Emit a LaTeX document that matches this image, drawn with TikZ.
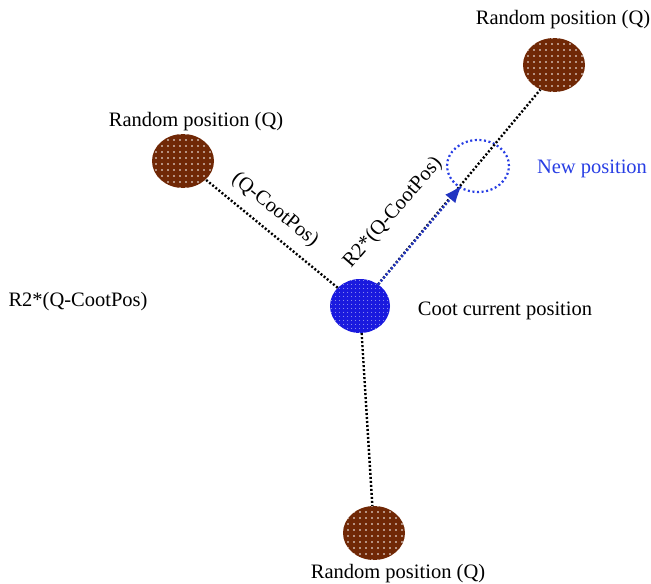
\documentclass[tikz,border=0pt]{standalone}
\usepackage{fontspec}
\setmainfont{Liberation Serif}
\usetikzlibrary{shapes.geometric, patterns.meta, arrows.meta}
\definecolor{qbrown}{RGB}{112,40,6}
\definecolor{cootblue}{RGB}{26,26,222}
\definecolor{newblue}{RGB}{40,62,228}
\begin{document}
\begin{tikzpicture}[x=1pt, y=-1pt, every node/.style={font=\fontsize{20.5pt}{24pt}\selectfont},
  qpos/.style={ellipse, inner sep=0pt, minimum width=62pt, minimum height=54pt, preaction={fill=qbrown}, pattern={Dots[distance=6pt, radius=0.8pt]}, pattern color=white},
  coot/.style={ellipse, inner sep=0pt, minimum width=60pt, minimum height=54pt, preaction={fill=cootblue}, pattern={Dots[distance=4pt, radius=0.6pt]}, pattern color=white!85!cootblue},
  newpos/.style={ellipse, inner sep=0pt, minimum width=62pt, minimum height=52pt, draw=newblue, line width=2.2pt, dash pattern=on 2pt off 2.6pt},
  path/.style={line width=2.4pt, dash pattern=on 2pt off 2pt}]
\useasboundingbox (0,0) rectangle (651,584);
% positions
\node[coot] (cur) at (360,306) {};
\node[qpos] (qleft) at (183,161) {};
\node[qpos] (qright) at (554,65) {};
\node[qpos] (qdown) at (374,533) {};
\node[newpos] (new) at (478,166) {};
% moves
\draw[path] (cur) -- (qleft);
\draw[path] (cur) -- (qright.241);
\draw[path] (cur) -- (qdown);
\draw[path, newblue!85!black, -{Latex[length=17pt, width=13pt, line width=0pt]}, shorten >=-3pt] (cur) -- (new);
% labels
\node (tright) at (563,20) {Random position (Q)};
\node (tleft) at (196,122) {Random position (Q)};
\node (tdown) at (398,574) {Random position (Q)};
\node[text=newblue] (tnew) at (592,169) {New position};
\node (tcur) at (505,311) {Coot current position};
\node (tr2) at (78,302) {R2*(Q-CootPos)};
\node[rotate=-39] (tdiff) at (275,210) {(Q-CootPos)};
\node[rotate=49] (tstep) at (393,213) {R2*(Q-CootPos)};
\end{tikzpicture}
\end{document}
